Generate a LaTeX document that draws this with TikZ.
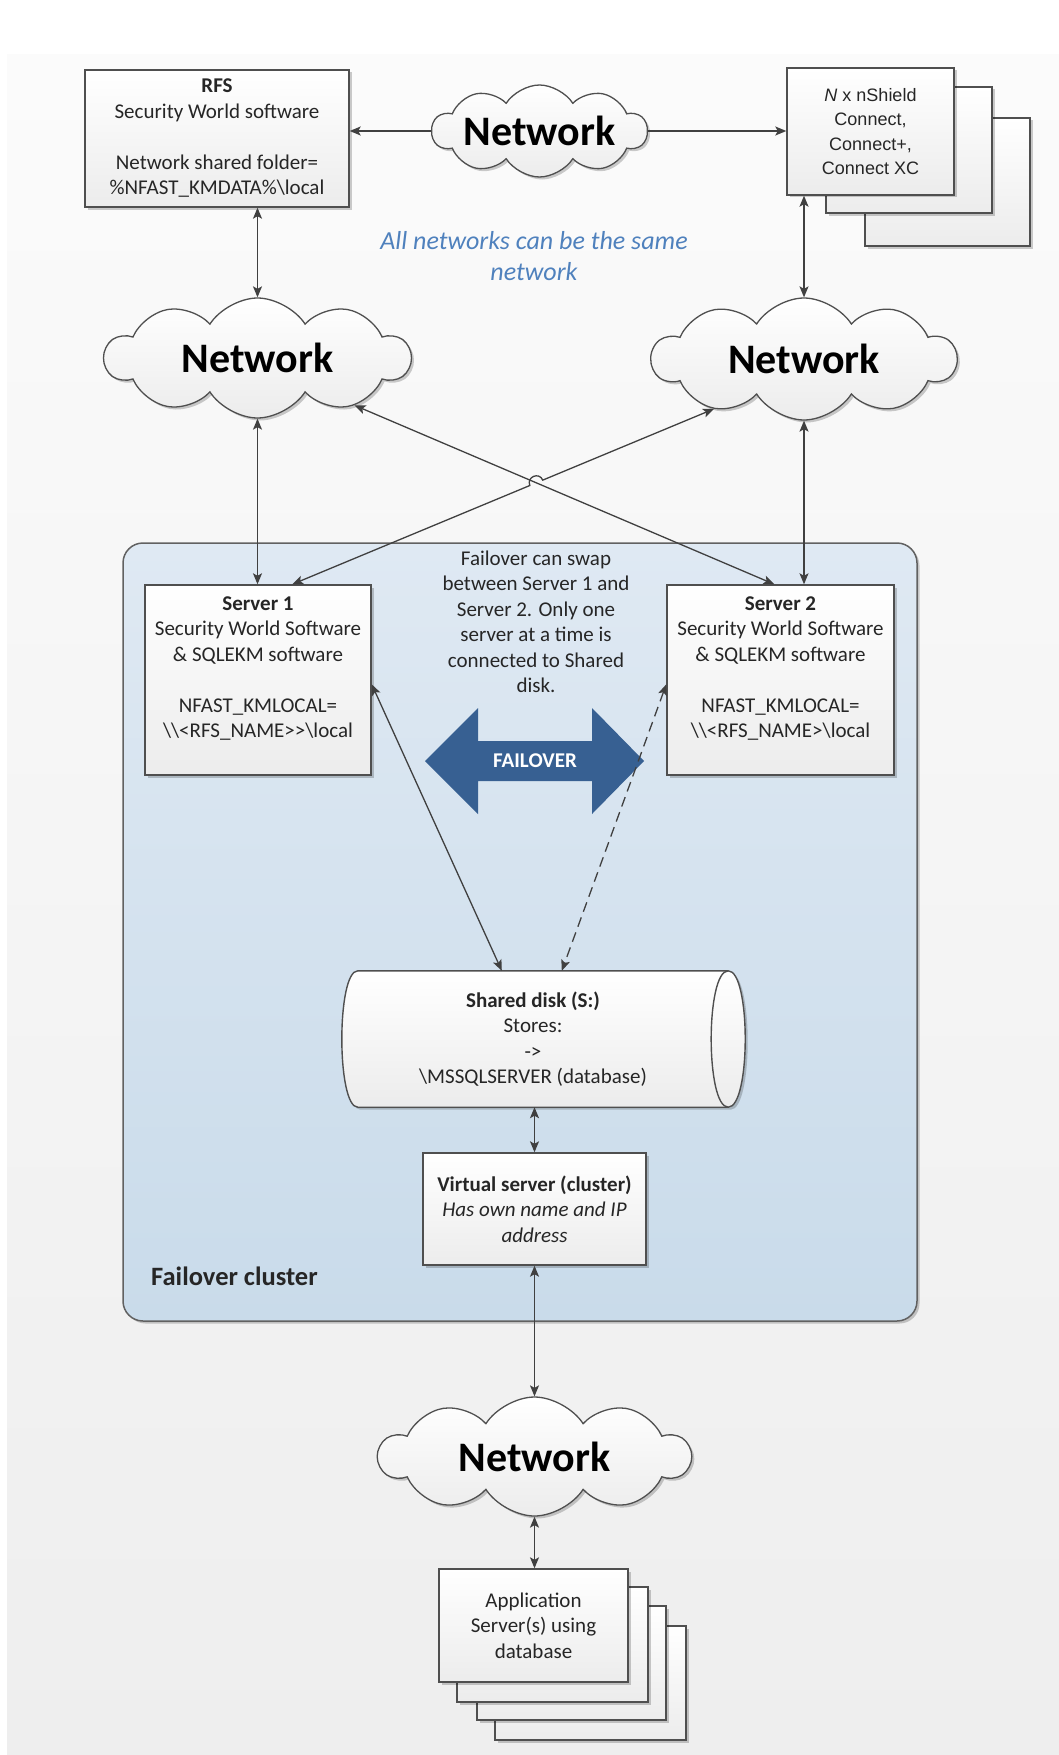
\documentclass[tikz,border=0pt]{standalone}
\usepackage{fontspec}
\setmainfont{Carlito}
\newfontfamily\arialf{Liberation Sans}
\usetikzlibrary{arrows.meta,shapes.symbols,shadows,calc,intersections}
\definecolor{linec}{HTML}{404040}
\definecolor{boxc}{HTML}{4F4F4F}
\definecolor{boxbot}{HTML}{ECECEC}
\definecolor{txtc}{HTML}{262626}
\definecolor{bluetxt}{HTML}{4F81BD}
\definecolor{failc}{HTML}{376092}
\definecolor{clA}{HTML}{DFE9F3}
\definecolor{clB}{HTML}{C9DBEA}
\definecolor{bgA}{HTML}{FBFBFB}
\definecolor{bgB}{HTML}{EEEEEE}
\newcommand\mytxt{\fontsize{21}{25.5}\selectfont}
\begin{document}
\begin{tikzpicture}[x=1pt,y=-1pt,
  >={Stealth[length=11pt,width=9pt,inset=2.5pt]},
  shd/.style={drop shadow={shadow xshift=2.5pt,shadow yshift=-2.5pt,opacity=0.2,fill=black}},
  box/.style={draw=boxc,line width=1.4pt,top color=white,bottom color=boxbot,shd,
    inner sep=0pt,text=txtc,align=center,font=\mytxt},
  nbox/.style={box,font=\arialf\fontsize{18}{24.5}\selectfont},
  netcloud/.style={cloud,cloud puffs=10,cloud puff arc=115,cloud ignores aspect,
    draw=boxc,line width=1.3pt,top color=white,bottom color=boxbot,shd,inner sep=0pt,
    text=black,font=\bfseries\fontsize{42}{48}\selectfont},
  conn/.style={draw=linec,line width=1.3pt},
  plain/.style={text=txtc,align=center,font=\mytxt,inner sep=0pt}]
\useasboundingbox (0,0) rectangle (1059,1755);
\path[top color=bgA,bottom color=bgB] (7,55) rectangle (1059,1755);

% failover cluster container
\node[draw=boxc!90,line width=1.5pt,rounded corners=20pt,top color=clA,bottom color=clB,shd,
  minimum width=794pt,minimum height=778pt] (cluster) at (520,932) {};
\node[anchor=base west,text=txtc,font=\bfseries\fontsize{26.5}{30}\selectfont,inner sep=0pt]
  (clusterlbl) at (151,1285) {Failover cluster};

% top row
\node[box,minimum width=264pt,minimum height=137pt] (rfs) at (217,138.5)
  {\textbf{RFS}\\Security World software\\\mbox{}\\Network shared folder=\\\%NFAST\_KMDATA\%\textbackslash local};
\node[nbox,minimum width=165pt,minimum height=128pt] (nsh3) at (947.5,182) {};
\node[nbox,minimum width=166pt,minimum height=126pt] (nsh2) at (909,150) {};
\node[nbox,minimum width=167pt,minimum height=127pt] (nsh1) at (870.5,131.5)
  {\textit{N} x nShield\\Connect,\\Connect+,\\Connect XC};
\node[netcloud,minimum width=215pt,minimum height=92pt] (tnet) at (539.5,131) {\makebox[0pt]{Network}};
\node[text=bluetxt,align=center,font=\itshape\fontsize{26}{31}\selectfont,inner sep=0pt]
  (alltxt) at (534,256.5) {All networks can be the same\\network};

\node[netcloud,minimum width=305pt,minimum height=120pt] (lnet) at (257.5,358) {\makebox[0pt]{Network}};
\node[netcloud,minimum width=304pt,minimum height=122pt] (rnet) at (804,359) {\makebox[0pt]{Network}};

% servers
\node[box,minimum width=226pt,minimum height=190pt] (s1) at (258,680)
  {\textbf{Server 1}\\Security World Software\\\& SQLEKM software\\\mbox{}\\NFAST\_KMLOCAL=\\\textbackslash\textbackslash<RFS\_NAME>{}>\textbackslash local\\\mbox{}};
\node[box,minimum width=227pt,minimum height=190pt] (s2) at (780.5,680)
  {\textbf{Server 2}\\Security World Software\\\& SQLEKM software\\\mbox{}\\NFAST\_KMLOCAL=\\\textbackslash\textbackslash<RFS\_NAME>\textbackslash local\\\mbox{}};
\node[plain] (failtxt) at (536,622)
  {Failover can swap\\between Server 1 and\\Server 2. Only one\\server at a time is\\connected to Shared\\disk.};

% failover arrow
\fill[failc] (425,761) -- (478,708) -- (478,741) -- (592,741) -- (592,708) -- (644,761)
  -- (592,814) -- (592,781) -- (478,781) -- (478,814) -- cycle;
\node[text=white,font=\bfseries\fontsize{21}{25}\selectfont,inner sep=0pt] (failover) at (535,761) {FAILOVER};

% shared disk
\node[minimum width=370pt,minimum height=136pt,inner sep=0pt] (disk) at (543,1039) {};
\path[draw=boxc,line width=1.4pt,top color=white,bottom color=boxbot,shd]
  (disk.north west) -- (disk.north east)
  .. controls ($(disk.north east)+(22.7,0)$) and ($(disk.south east)+(22.7,0)$) .. (disk.south east)
  -- (disk.south west)
  .. controls ($(disk.south west)+(-21.3,0)$) and ($(disk.north west)+(-21.3,0)$) .. (disk.north west)
  -- cycle;
\draw[boxc,line width=1.4pt] (disk.north east)
  .. controls ($(disk.north east)+(-22.7,0)$) and ($(disk.south east)+(-22.7,0)$) .. (disk.south east);
\node[plain] (disktxt) at (533,1039)
  {\textbf{Shared disk (S:)}\\Stores:\\-{}>\\\textbackslash MSSQLSERVER (database)};

% virtual server
\node[box,minimum width=223pt,minimum height=112pt] (vs) at (534.5,1209)
  {\textbf{Virtual server (cluster)}\\\textit{Has own name and IP}\\\textit{address}};

% bottom
\node[netcloud,minimum width=311pt,minimum height=119pt] (bnet) at (534.5,1456.5) {\makebox[0pt]{Network}};
\node[box,minimum width=191pt,minimum height=114pt] (app4) at (590.5,1683) {};
\node[box,minimum width=189pt,minimum height=114pt] (app3) at (571.5,1663) {};
\node[box,minimum width=191pt,minimum height=115pt] (app2) at (552.5,1644.5) {};
\node[box,minimum width=189pt,minimum height=113pt] (app1) at (533.5,1625.5)
  {Application\\Server(s) using\\database};

% connectors
\draw[conn,->] (tnet.west) -- (tnet.west -| rfs.east);
\draw[conn,->] (tnet.east) -- (tnet.east -| nsh1.west);
\draw[conn,<->] (lnet.north |- rfs.south) -- (lnet.north);
\draw[conn,<->] (rnet.north |- nsh1.south) -- (rnet.north);
\draw[conn,<->] (lnet.south) -- (lnet.south |- s1.north);
\draw[conn,<->] (rnet.south) -- (rnet.south |- s2.north);

\coordinate (s1t) at ($(s1.north west)+(148,0)$);
\coordinate (s2t) at ($(s2.north west)+(108,0)$);
\path[name path=lineA] (lnet.-26) -- (s2t);
\path[name path=lineB] (s1t) -- (rnet.209);
\path[name intersections={of=lineA and lineB, by=X}];
\coordinate (ha) at ($(X)!7pt!(s1t)$);
\coordinate (hb) at ($(X)!7pt!(rnet.209)$);
\coordinate (hac) at ($(ha)!9.3pt!90:(X)$);
\coordinate (hbc) at ($(hb)!9.3pt!-90:(X)$);
\draw[conn,<->] (lnet.-26) -- (s2t);
\draw[conn,<->] (s1t) -- (ha) .. controls (hac) and (hbc) .. (hb) -- (rnet.209);

\draw[conn,<->] ($(s1.north east)+(0,100)$) -- ($(disk.north west)+(144,0)$);
\draw[conn,<->,dash pattern=on 10pt off 6pt] ($(s2.north west)+(0,100)$) -- ($(disk.north west)+(204,0)$);
\draw[conn,<->] (vs.north |- disk.south) -- (vs.north);
\draw[conn,<->] (vs.south) -- (bnet.north);
\draw[conn,<->] (bnet.south) -- (bnet.south |- app1.north);
\end{tikzpicture}
\end{document}
